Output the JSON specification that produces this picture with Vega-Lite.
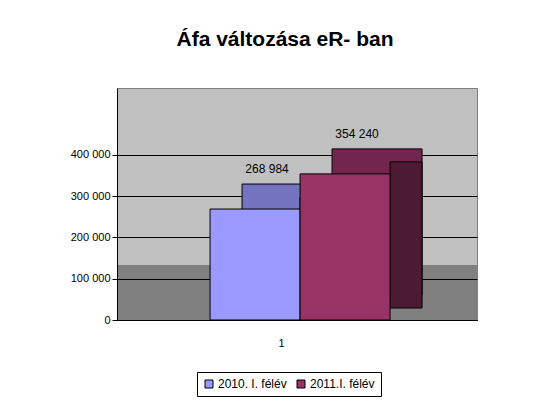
{
  "$schema": "https://vega.github.io/schema/vega-lite/v6.json",
  "autosize": "none",
  "width": 360,
  "height": 232,
  "padding": {"left": 117, "top": 88, "right": 80, "bottom": 92},
  "background": "white",
  "title": {
    "text": "Áfa változása eR- ban",
    "font": "Liberation Sans",
    "fontSize": 21,
    "fontWeight": "bold",
    "color": "black",
    "anchor": "middle",
    "dx": -12,
    "offset": 38
  },
  "view": {
    "stroke": "#808080",
    "fill": {
      "gradient": "linear",
      "x1": 0, "y1": 0, "x2": 0, "y2": 1,
      "stops": [
        {"offset": 0, "color": "#c0c0c0"},
        {"offset": 0.76, "color": "#c0c0c0"},
        {"offset": 0.76, "color": "#808080"},
        {"offset": 1, "color": "#808080"}
      ]
    }
  },
  "config": {
    "locale": {"number": {"decimal": ",", "thousands": " ", "grouping": [3], "currency": ["", " Ft"]}},
    "font": "Liberation Sans",
    "axis": {"labelFont": "Liberation Sans", "labelColor": "black", "labelFontSize": 11, "domainColor": "black", "tickColor": "black", "titleColor": "black"}
  },
  "data": {
    "values": [
      {"kat": "1", "idoszak": "2010. I. félév", "afa": 268984},
      {"kat": "1", "idoszak": "2011.I. félév", "afa": 354240}
    ]
  },
  "encoding": {
    "x": {
      "field": "idoszak",
      "type": "nominal",
      "scale": {"paddingInner": 0, "paddingOuter": 1, "align": 0.517},
      "axis": {
        "labels": false,
        "ticks": false,
        "title": "1",
        "titleFontWeight": "normal",
        "titleFontSize": 11,
        "titleFont": "Liberation Sans",
        "titleX": 164,
        "titleY": 26,
        "titleBaseline": "alphabetic",
        "domainColor": "black"
      }
    },
    "y": {
      "field": "afa",
      "type": "quantitative",
      "scale": {"domain": [0, 562424], "nice": false, "zero": true},
      "axis": {
        "values": [0, 100000, 200000, 300000, 400000],
        "labelExpr": "format(datum.value, ',d')",
        "title": null,
        "grid": true,
        "gridColor": "black",
        "gridOpacity": 1,
        "tickSize": 5,
        "labelPadding": 2
      }
    }
  },
  "layer": [
    {
      "mark": {"type": "bar", "xOffset": 32, "yOffset": -25, "stroke": "black", "strokeWidth": 1},
      "encoding": {
        "color": {"field": "idoszak", "type": "nominal", "scale": {"range": ["#7373bf", "#73264d"]}, "legend": null}
      }
    },
    {
      "mark": {"type": "bar", "width": 32, "xOffset": 61, "yOffset": -12, "stroke": "black", "strokeWidth": 1},
      "encoding": {
        "color": {"field": "idoszak", "type": "nominal", "scale": {"range": ["#5c5c99", "#4c1a33"]}, "legend": null}
      }
    },
    {
      "mark": {"type": "bar", "stroke": "black", "strokeWidth": 1},
      "encoding": {
        "color": {
          "field": "idoszak",
          "type": "nominal",
          "scale": {"range": ["#9999ff", "#993366"]},
          "legend": {
            "title": null,
            "orient": "none",
            "legendX": 80,
            "legendY": 284,
            "direction": "horizontal",
            "columns": 2,
            "strokeColor": "black",
            "fillColor": "white",
            "padding": 6,
            "symbolType": "square",
            "symbolSize": 64,
            "symbolStrokeColor": "black",
            "symbolStrokeWidth": 1,
            "symbolOpacity": 1,
            "labelFont": "Liberation Sans",
            "labelFontSize": 12,
            "labelColor": "black",
            "columnPadding": 8,
            "labelOffset": 3
          }
        }
      }
    },
    {
      "mark": {"type": "text", "dx": 12, "dy": -36, "baseline": "alphabetic", "font": "Liberation Sans", "fontSize": 12, "color": "black"},
      "encoding": {
        "text": {"field": "afa", "type": "quantitative", "format": ","}
      }
    }
  ],
  "resolve": {"scale": {"color": "independent"}}
}
